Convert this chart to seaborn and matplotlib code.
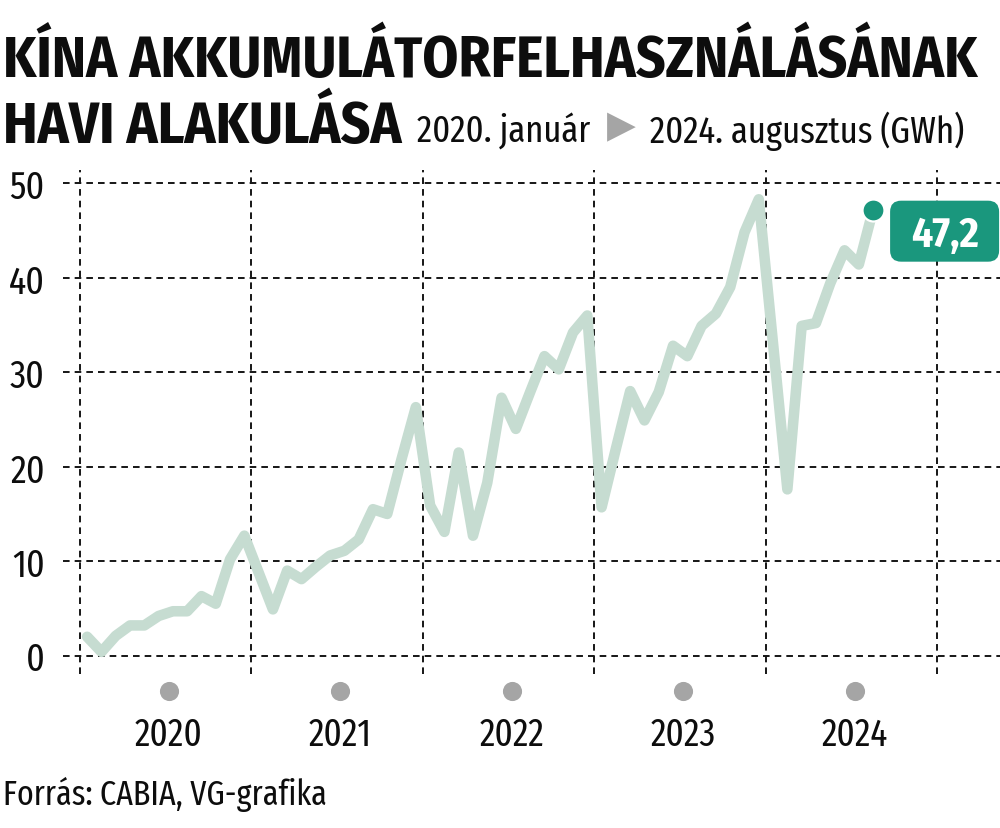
import matplotlib
matplotlib.use("Agg")
import matplotlib.pyplot as plt
import matplotlib.transforms as mtransforms
from matplotlib.patches import FancyBboxPatch
import numpy as np
import pandas as pd
import seaborn as sns

# ---------------- data (GWh, monthly, 2020 Jan -> 2024 Aug) ----------------
years = [2020, 2021, 2022, 2023, 2024]
vals_2020 = [2.0, 0.4, 2.1, 3.2, 3.2, 4.2, 4.7, 4.7, 6.3, 5.5, 10.2, 12.7]
vals_2021 = [8.8, 4.9, 9.0, 8.1, 9.4, 10.6, 11.1, 12.3, 15.5, 15.0, 20.8, 26.3]
vals_2022 = [15.9, 13.1, 21.5, 12.7, 18.3, 27.3, 24.0, 27.9, 31.7, 30.3, 34.2, 36.0]
vals_2023 = [15.7, 21.9, 28.0, 24.9, 27.9, 32.8, 31.7, 34.9, 36.2, 39.0, 44.8, 48.3]
vals_2024 = [33.0, 17.6, 34.9, 35.2, 39.4, 42.9, 41.4, 47.2]
y_ticks = [0, 10, 20, 30, 40, 50]

title_1 = "KÍNA AKKUMULÁTORFELHASZNÁLÁSÁNAK"
title_2 = "HAVI ALAKULÁSA"
sub_from = "2020. január"
sub_to = "2024. augusztus (GWh)"
source = "Forrás: CABIA, VG-grafika"

values = vals_2020 + vals_2021 + vals_2022 + vals_2023 + vals_2024
df = pd.DataFrame({"month": np.arange(len(values)), "gwh": values})

# ---------------- style ----------------
sns.set_style("white")
REG = ["Fira Sans Extra Condensed", "DejaVu Sans"]
BOLD = ["Fira Sans Condensed", "DejaVu Sans"]
plt.rcParams["font.family"] = REG

LINE_C = "#c6dcd1"
TEAL = "#1a977d"
GREY = "#a5a5a5"
GRID_C = "#161616"
TXT = "#0d0d0d"

W, H = 1000, 829
fig = plt.figure(figsize=(W / 100, H / 100), dpi=100)
ax = fig.add_axes([63 / W, 1 - 675 / H, (W - 63) / W, (675 - 171) / H])

sns.lineplot(data=df, x="month", y="gwh", ax=ax, color=LINE_C, linewidth=7.6,
             solid_joinstyle="round", solid_capstyle="round", zorder=3)

ax.set_xlim(-1.69, 63.88)
ax.set_ylim(-1.94, 51.4)

# grid: year boundaries + y ticks
boundaries = [12 * k - 0.5 for k in range(len(years) + 1)]
ax.set_xticks(boundaries)
ax.set_xticklabels([])
ax.set_yticks(y_ticks)
ax.set_yticklabels([str(v) for v in y_ticks])
ax.tick_params(axis="both", length=0)
ax.tick_params(axis="y", pad=13, labelsize=28, labelcolor=TXT)
for lab in ax.get_yticklabels():
    lab.set_family(REG)
ax.grid(True, color=GRID_C, linewidth=1.4, linestyle=(0, (3.4, 2.6)))
ax.set_axisbelow(True)
for s in ax.spines.values():
    s.set_visible(False)
ax.set_xlabel("")
ax.set_ylabel("")

# end point dot
ax.scatter([df["month"].iloc[-1]], [df["gwh"].iloc[-1]], s=250, color=TEAL,
           edgecolor="white", linewidth=1.6, zorder=5, clip_on=False)

# value label box, placed relative to the end point
fig.canvas.draw()
px, py = ax.transData.transform((df["month"].iloc[-1], df["gwh"].iloc[-1]))
box = FancyBboxPatch((px + 17, py - 52), 109, 61,
                     boxstyle="round,pad=0,rounding_size=11",
                     transform=None, facecolor=TEAL, edgecolor="none", zorder=6)
fig.add_artist(box)
label = f"{df['gwh'].iloc[-1]:.1f}".replace(".", ",")
fig.text((px + 17 + 54.5) / W, (py - 36) / H, label, ha="center", va="baseline",
         color="white", fontsize=30, fontweight="bold", family=BOLD, zorder=7)

# year markers below the axis
blend = mtransforms.blended_transform_factory(ax.transData, fig.transFigure)
centers = [12 * k + 5.7 for k in range(len(years))]
ax.scatter(centers, [1 - 691.7 / H] * len(years), s=190, color=GREY,
           transform=blend, clip_on=False, linewidth=0, zorder=4)
for c, yr in zip(centers, years):
    ax.text(c, 1 - 746 / H, str(yr), transform=blend, ha="center", va="baseline",
            fontsize=27.5, color=TXT, family=REG)

# title (fit line 1 to its width in the reference)
t1 = fig.text(3 / W, 1 - 77 / H, title_1, fontsize=40, fontweight="bold",
              family=BOLD, color=TXT, va="baseline", ha="left")
fig.canvas.draw()
r = fig.canvas.get_renderer()
w1 = t1.get_window_extent(r).width
tsize = 40 * 974 / w1
t1.set_fontsize(tsize)
t2 = fig.text(3 / W, 1 - 143 / H, title_2, fontsize=tsize, fontweight="bold",
              family=BOLD, color=TXT, va="baseline", ha="left")
fig.canvas.draw()
x_end = t2.get_window_extent(r).x1
s1 = fig.text((x_end + 15) / W, 1 - 143 / H, sub_from, fontsize=27, family=REG,
              color=TXT, va="baseline", ha="left")
fig.canvas.draw()
x_end = s1.get_window_extent(r).x1
tri = fig.text((x_end + 17) / W, 1 - 137 / H, "\u25B6", fontsize=27, family=["DejaVu Sans"],
               color=GREY, va="baseline", ha="left")
fig.canvas.draw()
x_end = tri.get_window_extent(r).x1
fig.text((x_end + 14) / W, 1 - 143 / H, sub_to, fontsize=27, family=REG,
         color=TXT, va="baseline", ha="left")

# source
fig.text(3 / W, 1 - 805 / H, source, fontsize=25, family=REG, color=TXT,
         va="baseline", ha="left")

fig.savefig("out.png", dpi=100, facecolor="white")
